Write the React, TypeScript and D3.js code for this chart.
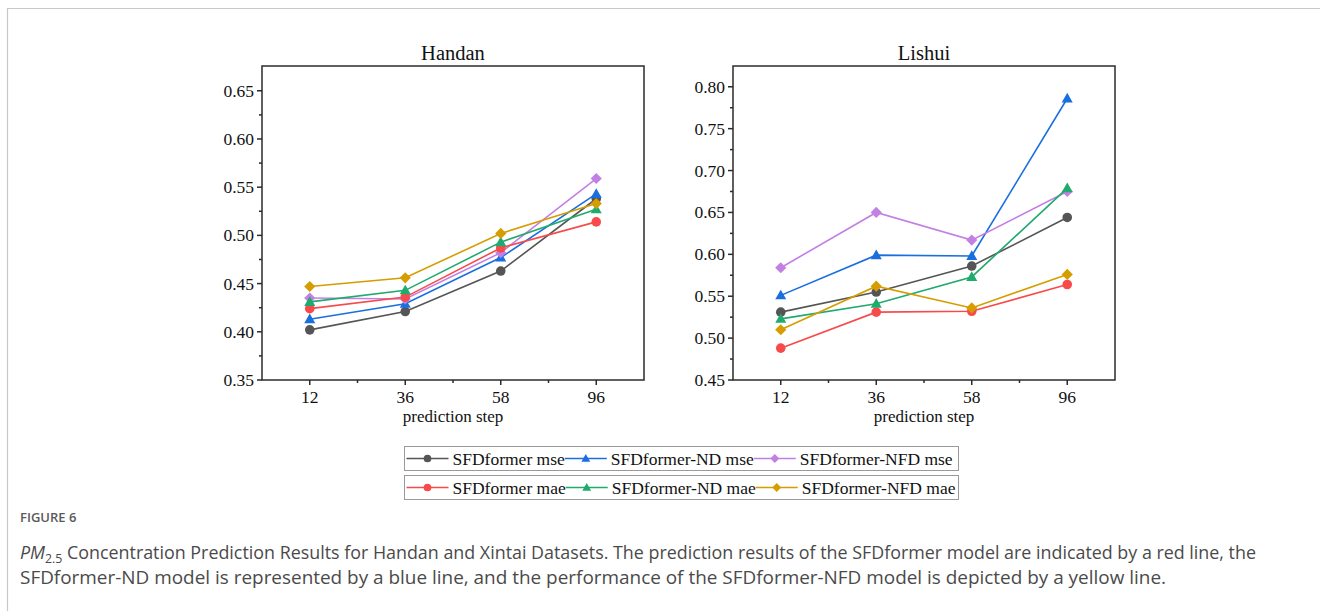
import React, { useMemo } from "react";
import * as d3 from "d3";

const steps = ["12", "36", "58", "96"];
const seriesNames = [
  "SFDformer mse",
  "SFDformer-ND mse",
  "SFDformer-NFD mse",
  "SFDformer mae",
  "SFDformer-ND mae",
  "SFDformer-NFD mae",
];
const seriesColors = ["#555555", "#1A6FDF", "#C280E4", "#F84A4A", "#1FAA6E", "#D69D00"];
const seriesShapes = ["circle", "triangle", "diamond", "circle", "triangle", "diamond"];

// Handan
const handanMse = [0.402, 0.421, 0.463, 0.538];
const handanNDMse = [0.413, 0.429, 0.477, 0.543];
const handanNFDMse = [0.435, 0.434, 0.482, 0.559];
const handanMae = [0.424, 0.436, 0.487, 0.514];
const handanNDMae = [0.431, 0.443, 0.493, 0.527];
const handanNFDMae = [0.447, 0.456, 0.502, 0.533];

// Lishui
const lishuiMse = [0.531, 0.555, 0.586, 0.644];
const lishuiNDMse = [0.551, 0.599, 0.598, 0.786];
const lishuiNFDMse = [0.584, 0.650, 0.617, 0.675];
const lishuiMae = [0.488, 0.531, 0.532, 0.564];
const lishuiNDMae = [0.523, 0.541, 0.573, 0.679];
const lishuiNFDMae = [0.510, 0.562, 0.536, 0.576];

const handanTicks = [0.35, 0.4, 0.45, 0.5, 0.55, 0.6, 0.65];
const lishuiTicks = [0.45, 0.5, 0.55, 0.6, 0.65, 0.7, 0.75, 0.8];

const SERIF = "'Liberation Serif', 'Times New Roman', serif";
const SANS = "'Open Sans', 'Noto Sans', sans-serif";
const AX = "#2b2b2b";

function Marker({ shape, x, y, color, s = 1 }: any) {
  if (shape === "circle") return <circle cx={x} cy={y} r={4.8 * s} fill={color} />;
  if (shape === "triangle") {
    const h = 9.5 * s;
    return (
      <path
        d={`M${x},${y - h * 0.6} L${x + h * 0.58},${y + h * 0.42} L${x - h * 0.58},${y + h * 0.42} Z`}
        fill={color}
      />
    );
  }
  const r = 5.6 * s;
  return <path d={`M${x},${y - r} L${x + r},${y} L${x},${y + r} L${x - r},${y} Z`} fill={color} />;
}

function Panel({ title, left, right, top, bottom, domain, ticks, data }: any) {
  const x = d3.scalePoint<string>().domain(steps).range([left, right]).padding(0.5);
  const y = d3.scaleLinear().domain(domain).range([bottom, top]);
  const minorY: number[] = [];
  for (let i = 0; i < ticks.length; i++) {
    const v = ticks[i] + 0.025;
    if (y(v) > top + 1) minorY.push(v);
  }
  const minorX: number[] = [];
  for (let i = 0; i < steps.length - 1; i++) minorX.push(((x(steps[i]) as number) + (x(steps[i + 1]) as number)) / 2);
  const line = d3
    .line<number>()
    .x((_, i) => x(steps[i]) as number)
    .y((d) => y(d));
  return (
    <g>
      <text x={(left + right) / 2} y={top - 6} textAnchor="middle" fontFamily={SERIF} fontSize={20.5} fill="#111">
        {title}
      </text>
      <rect x={left} y={top} width={right - left} height={bottom - top} fill="none" stroke={AX} strokeWidth={1.5} />
      {ticks.map((t: number) => (
        <g key={t}>
          <line x1={left - 5} x2={left} y1={y(t)} y2={y(t)} stroke={AX} strokeWidth={1.5} />
          <text x={left - 8} y={y(t) + 6} textAnchor="end" fontFamily={SERIF} fontSize={17.5} fill="#111">
            {t.toFixed(2)}
          </text>
        </g>
      ))}
      {minorY.map((t) => (
        <line key={"m" + t} x1={left - 3} x2={left} y1={y(t)} y2={y(t)} stroke={AX} strokeWidth={1.5} />
      ))}
      {steps.map((s) => (
        <g key={s}>
          <line x1={x(s)} x2={x(s)} y1={bottom} y2={bottom + 5} stroke={AX} strokeWidth={1.5} />
          <text x={x(s)} y={bottom + 23} textAnchor="middle" fontFamily={SERIF} fontSize={17.5} fill="#111">
            {s}
          </text>
        </g>
      ))}
      {minorX.map((mx) => (
        <line key={"mx" + mx} x1={mx} x2={mx} y1={bottom} y2={bottom + 3} stroke={AX} strokeWidth={1.5} />
      ))}
      <text x={(left + right) / 2} y={bottom + 42} textAnchor="middle" fontFamily={SERIF} fontSize={17} fill="#111">
        prediction step
      </text>
      {data.map((vals: number[], si: number) => (
        <g key={si}>
          <path d={line(vals) as string} fill="none" stroke={seriesColors[si]} strokeWidth={1.6} />
          {vals.map((v, i) => (
            <Marker key={i} shape={seriesShapes[si]} x={x(steps[i])} y={y(v)} color={seriesColors[si]} />
          ))}
        </g>
      ))}
    </g>
  );
}

function Legend({ x0, y0, w, h, items }: any) {
  const widths = useMemo(() => {
    const c = document.createElement("canvas").getContext("2d") as CanvasRenderingContext2D;
    c.font = `17.5px ${SERIF}`;
    return items.map((i: number) => c.measureText(seriesNames[i]).width);
  }, [items]);
  let cx = x0 + 2;
  const parts: any[] = [];
  items.forEach((si: number, k: number) => {
    const lx = cx;
    parts.push(
      <g key={si}>
        <line x1={lx} x2={lx + 42} y1={y0 + h / 2} y2={y0 + h / 2} stroke={seriesColors[si]} strokeWidth={1.6} />
        <Marker shape={seriesShapes[si]} x={lx + 21} y={y0 + h / 2} color={seriesColors[si]} s={0.8} />
        <text x={lx + 46} y={y0 + h / 2 + 6} fontFamily={SERIF} fontSize={17.5} fill="#111">
          {seriesNames[si]}
        </text>
      </g>
    );
    cx = lx + 46 + widths[k];
  });
  return (
    <g>
      <rect x={x0} y={y0} width={w} height={h} fill="none" stroke="#9a9a9a" strokeWidth={1} />
      {parts}
    </g>
  );
}

export default function App() {
  return (
    <svg width={1320} height={611} style={{ position: "absolute", left: 0, top: 0, background: "#fff" }}>
      <rect x={0} y={0} width={1320} height={611} fill="#fff" />
      <path d="M7.5,611 L7.5,8.5 L1320,8.5" fill="none" stroke="#c8c8c8" strokeWidth={1.2} />
      <Panel
        title="Handan"
        left={262}
        right={644}
        top={66}
        bottom={380}
        domain={[0.35, 0.6757]}
        ticks={handanTicks}
        data={[handanMse, handanNDMse, handanNFDMse, handanMae, handanNDMae, handanNFDMae]}
      />
      <Panel
        title="Lishui"
        left={733}
        right={1115}
        top={66}
        bottom={380}
        domain={[0.45, 0.8248]}
        ticks={lishuiTicks}
        data={[lishuiMse, lishuiNDMse, lishuiNFDMse, lishuiMae, lishuiNDMae, lishuiNFDMae]}
      />
      <Legend x0={404.5} y0={446.5} w={554} h={24} items={[0, 1, 2]} />
      <Legend x0={404.5} y0={475.5} w={554} h={24} items={[3, 4, 5]} />
      <text x={20} y={522} fontFamily={SANS} fontSize={13} fontWeight={600} fill="#5a5a5a">
        FIGURE 6
      </text>
      <text x={20} y={559} fontFamily={SANS} fontSize={17.4} fill="#4a4a4a" textLength={1236} lengthAdjust="spacingAndGlyphs">
        <tspan fontStyle="italic">PM</tspan>
        <tspan fontSize={12} dy={4}>2.5</tspan>
        <tspan dy={-4}> Concentration Prediction Results for Handan and Xintai Datasets. The prediction results of the SFDformer model are indicated by a red line, the</tspan>
      </text>
      <text x={20} y={584} fontFamily={SANS} fontSize={17.4} fill="#4a4a4a" textLength={1146} lengthAdjust="spacingAndGlyphs">
        SFDformer-ND model is represented by a blue line, and the performance of the SFDformer-NFD model is depicted by a yellow line.
      </text>
    </svg>
  );
}
